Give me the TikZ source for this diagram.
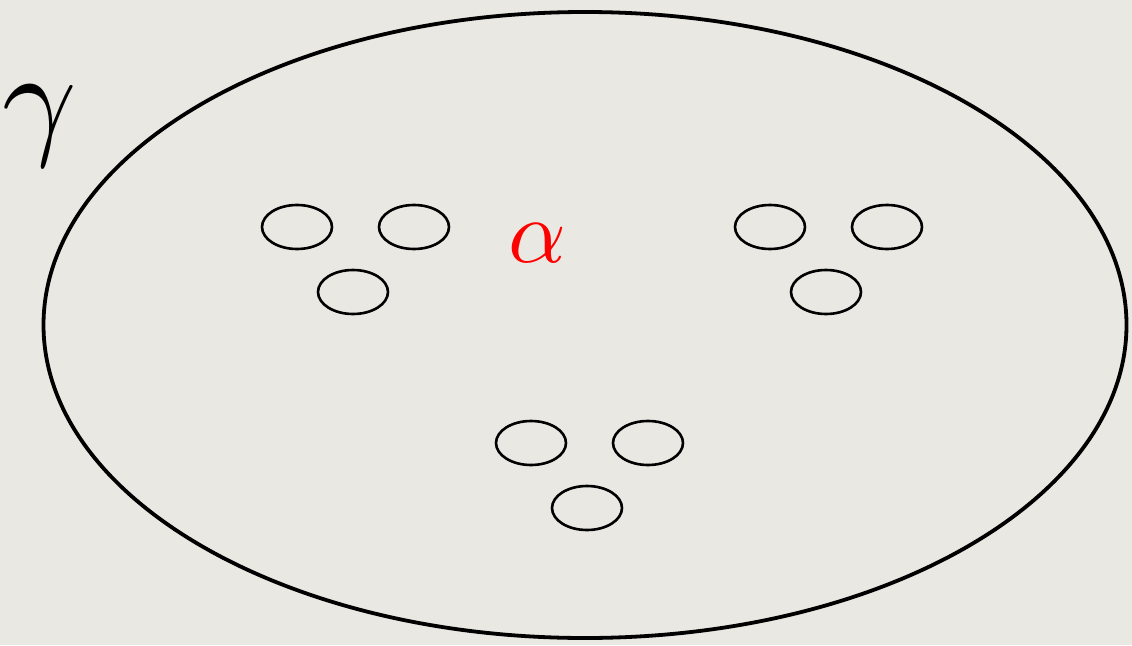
\documentclass[tikz,border=0pt]{standalone}
\usetikzlibrary{shapes.geometric}
\definecolor{bgpaper}{RGB}{233,232,226}
\tikzset{
  cell/.style={draw,ellipse,line width=2.6pt,minimum width=70pt,minimum height=44pt,inner sep=0pt},
  world/.style={draw,ellipse,line width=3.8pt,minimum width=1083pt,minimum height=626pt,inner sep=0pt}
}
\begin{document}
\begin{tikzpicture}[x=1pt,y=-1pt]
\fill[bgpaper] (0,0) rectangle (1132,645);
\useasboundingbox (0,0) rectangle (1132,645);
\node[world] (gamma) at (585,325) {};
\node[scale=13] (glabel) at (40,126) {$\gamma$};
\node[text=red,scale=9] (alabel) at (537,243) {$\alpha$};
% three groups of three cells
\foreach \n/\x/\y in {a/297/227,b/770/227,c/531/443}{
  \node[cell] (\n1) at (\x,\y) {};
  \node[cell] (\n2) at (\x+117,\y) {};
  \node[cell] (\n3) at (\x+56,\y+65) {};
}
\end{tikzpicture}
\end{document}
